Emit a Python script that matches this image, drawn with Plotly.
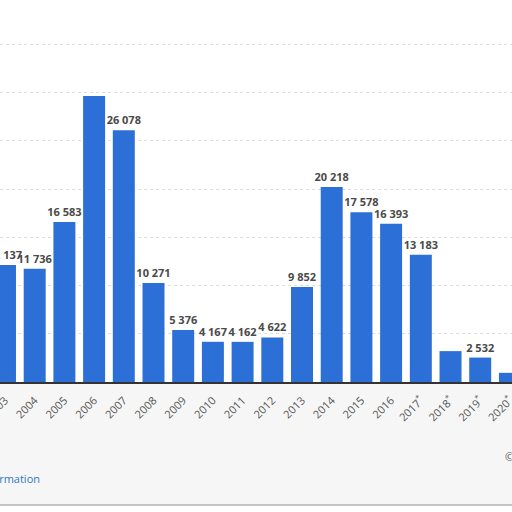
import plotly.graph_objects as go

years = ["2003", "2004", "2005", "2006", "2007", "2008", "2009", "2010", "2011",
         "2012", "2013", "2014", "2015", "2016", "2017*", "2018*", "2019*", "2020*"]
values = [12137, 11736, 16583, 29640, 26078, 10271, 5376, 4167, 4162,
          4622, 9852, 20218, 17578, 16393, 13183, 3200, 2532, 951]
hidden_labels = {"2006", "2018*", "2020*"}

def fmt(v):
    return f"{v:,}".replace(",", " ")

labels = ["" if y in hidden_labels else fmt(v) for y, v in zip(years, values)]
ticktext = [y.replace("*", "<sup>*</sup>") for y in years]

PLOT_H = 382.0
def py(p):  # pixel y (from top) -> paper y of plot area
    return (PLOT_H - p) / PLOT_H

fig = go.Figure(go.Bar(
    x=years, y=values, text=labels, textposition="outside",
    constraintext="none",
    textfont=dict(family="Open Sans", size=11, color="#4a4a4a", weight="bold"),
    marker=dict(color="#2c6fd6", line=dict(width=0)),
    width=0.74, cliponaxis=False,
))

fig.update_layout(
    width=512, height=512,
    margin=dict(l=0, r=0, t=0, b=130, autoexpand=False),
    paper_bgcolor="white", plot_bgcolor="rgba(0,0,0,0)",
    showlegend=False,
    xaxis=dict(type="category", range=[-0.168, 17.07], tickangle=-45,
               tickvals=years, ticktext=ticktext, automargin=False,
               ticklabelstandoff=6,
               tickfont=dict(family="Open Sans", size=11, color="#555"),
               showline=True, linecolor="#333", linewidth=1.5, ticks=""),
    yaxis=dict(range=[0, 39585], dtick=5000, showticklabels=False, automargin=False,
               showgrid=True, gridcolor="#dedede", griddash="dot", zeroline=False),
    annotations=[
        dict(text="Additional Information", x=42/512, y=py(479), xref="paper", yref="paper",
             xanchor="right", yanchor="middle", showarrow=False,
             font=dict(family="Open Sans", size=11, color="#2a78c2")),
        dict(text="© Statista 2021", x=503/512, y=py(456), xref="paper", yref="paper",
             xanchor="left", yanchor="middle", showarrow=False,
             font=dict(family="Open Sans", size=11, color="#555")),
    ],
    shapes=[
        dict(type="rect", xref="paper", yref="paper", x0=0, x1=1,
             y0=py(505), y1=py(384), fillcolor="#f6f6f6",
             line=dict(width=0), layer="below"),
        dict(type="line", xref="paper", yref="paper", x0=0, x1=1,
             y0=py(505), y1=py(505), line=dict(color="#c4c4c4", width=2)),
    ],
)

fig.write_html("out.html", config={"displayModeBar": False},
               post_script="document.body.style.margin='0';")
